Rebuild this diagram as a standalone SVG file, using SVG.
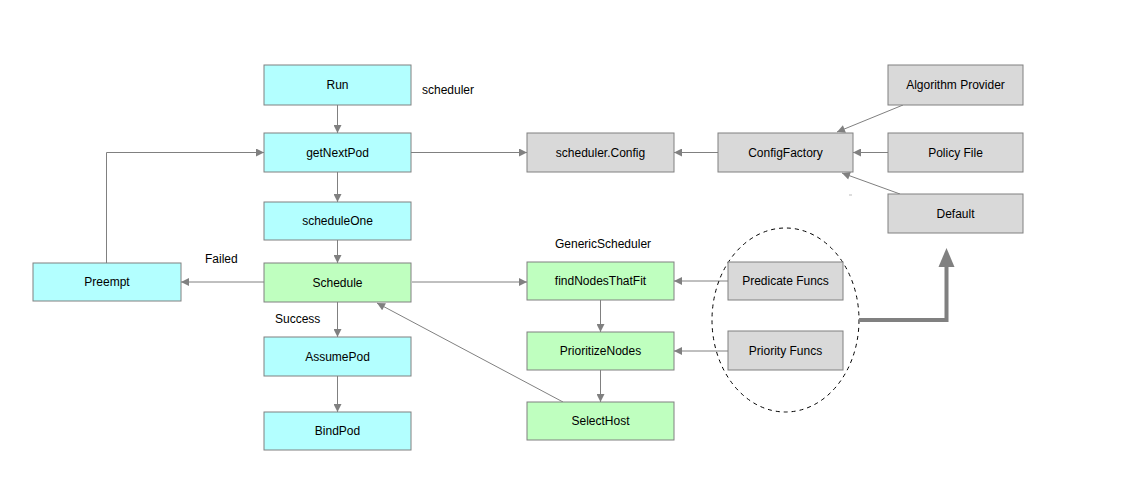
<svg xmlns="http://www.w3.org/2000/svg" width="1136" height="491" viewBox="0 0 1136 491">
<style>
.n rect{stroke:#808080;stroke-width:1}
.c rect{fill:#B3FFFF}
.g rect{fill:#BFFFBF}
.y rect{fill:#D9D9D9}
text{font-family:"Liberation Sans",Arial,sans-serif;font-size:12px;fill:#000}
.n text{text-anchor:middle}
.e{stroke:#808080;stroke-width:1;fill:none;marker-end:url(#a)}
</style>
<defs>
<marker id="a" viewBox="0 0 10 10" refX="10" refY="5" markerWidth="9" markerHeight="8" markerUnits="userSpaceOnUse" orient="auto">
<path d="M0,0 L10,5 L0,10 z" fill="#808080"/>
</marker>
</defs>
<rect width="1136" height="491" fill="#fff"/>
<g id="connectors">
<path class="e" d="M337.5,105 V133"/>
<path class="e" d="M337.5,172 V202"/>
<path class="e" d="M337.5,240 V263"/>
<path class="e" d="M337.5,302 V337"/>
<path class="e" d="M337.5,376 V412"/>
<path class="e" d="M411,152.5 H527"/>
<path class="e" d="M718,152.5 H674"/>
<path class="e" d="M903,105 L837,132"/>
<path class="e" d="M888,152.5 H853"/>
<path class="e" d="M900,194 L842,173"/>
<path d="M849,195 H852" stroke="#bbb" stroke-width="1"/>
<path class="e" d="M106.5,263 V152.5 H264"/>
<path class="e" d="M264,282 H181"/>
<path class="e" d="M412,282 H527"/>
<path class="e" d="M600.5,300 V332"/>
<path class="e" d="M600.5,370 V402"/>
<path class="e" d="M563,402 L377,303"/>
<path class="e" d="M728,281 H674"/>
<path class="e" d="M728,351 H674"/>
<ellipse cx="785.5" cy="320" rx="73.5" ry="92" fill="none" stroke="#000" stroke-width="1" stroke-dasharray="4,4"/>
<path d="M859,320 H946.5 V265" fill="none" stroke="#808080" stroke-width="4"/>
<path d="M938.5,267 L946.5,248 L954.5,267 z" fill="#808080"/>
</g>
<g id="Run" class="n c"><rect x="264" y="65" width="147" height="40"/><text x="337.5" y="89">Run</text></g>
<g id="getNextPod" class="n c"><rect x="264" y="133" width="147" height="39"/><text x="337.5" y="157">getNextPod</text></g>
<g id="scheduleOne" class="n c"><rect x="264" y="202" width="147" height="38"/><text x="337.5" y="225">scheduleOne</text></g>
<g id="Schedule" class="n g"><rect x="264" y="263" width="147" height="39"/><text x="337.5" y="287">Schedule</text></g>
<g id="Preempt" class="n c"><rect x="33" y="263" width="148" height="38"/><text x="107" y="286">Preempt</text></g>
<g id="AssumePod" class="n c"><rect x="264" y="337" width="147" height="39"/><text x="337.5" y="361">AssumePod</text></g>
<g id="BindPod" class="n c"><rect x="264" y="412" width="147" height="38"/><text x="337.5" y="435">BindPod</text></g>
<g id="schedulerConfig" class="n y"><rect x="527" y="133" width="147" height="39"/><text x="600.5" y="157">scheduler.Config</text></g>
<g id="ConfigFactory" class="n y"><rect x="718" y="133" width="135" height="39"/><text x="785.5" y="157">ConfigFactory</text></g>
<g id="AlgorithmProvider" class="n y"><rect x="888" y="65" width="135" height="40"/><text x="955.5" y="89">Algorithm Provider</text></g>
<g id="PolicyFile" class="n y"><rect x="888" y="133" width="135" height="39"/><text x="955.5" y="157">Policy File</text></g>
<g id="Default" class="n y"><rect x="888" y="194" width="135" height="39"/><text x="955.5" y="218">Default</text></g>
<g id="findNodesThatFit" class="n g"><rect x="527" y="262" width="147" height="38"/><text x="600.5" y="285">findNodesThatFit</text></g>
<g id="PrioritizeNodes" class="n g"><rect x="527" y="332" width="147" height="38"/><text x="600.5" y="355">PrioritizeNodes</text></g>
<g id="SelectHost" class="n g"><rect x="527" y="402" width="147" height="38"/><text x="600.5" y="425">SelectHost</text></g>
<g id="PredicateFuncs" class="n y"><rect x="728" y="262" width="115" height="38"/><text x="785.5" y="285">Predicate Funcs</text></g>
<g id="PriorityFuncs" class="n y"><rect x="728" y="331" width="115" height="39"/><text x="785.5" y="355">Priority Funcs</text></g>
<g id="labels">
<text x="422" y="94">scheduler</text>
<text x="555" y="248">GenericScheduler</text>
<text x="205" y="263">Failed</text>
<text x="275" y="323">Success</text>
</g>
</svg>
